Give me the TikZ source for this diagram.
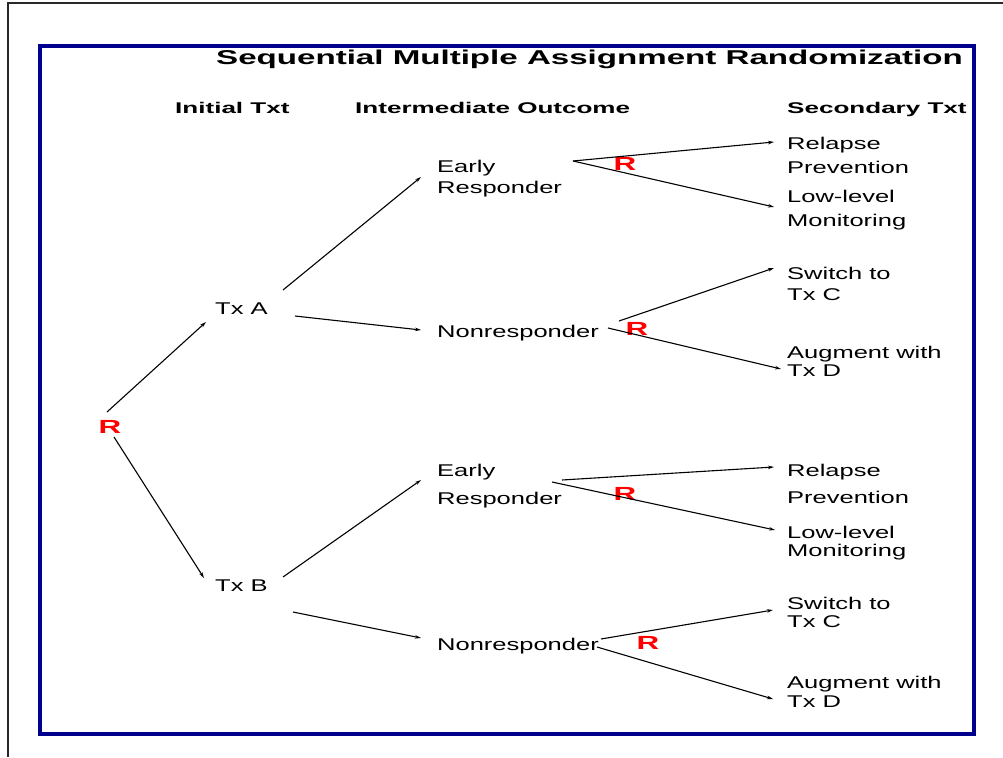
\documentclass[tikz,border=0pt]{standalone}
\usepackage{fontspec}
\setmainfont{Liberation Sans}
\newfontfamily\nf[FakeStretch=1.5]{Liberation Sans}
\newfontfamily\hf[FakeStretch=1.68]{Liberation Sans Bold}
\newfontfamily\ttlf[FakeStretch=1.655]{Liberation Sans Bold}
\newfontfamily\rf[FakeStretch=1.65]{Liberation Sans Bold}
\usetikzlibrary{arrows.meta}
\definecolor{navy}{RGB}{0,0,140}
\definecolor{frame}{RGB}{40,40,40}
\tikzset{
  txt/.style={font=\nf\fontsize{17}{15}\selectfont, anchor=north west, inner sep=0pt, align=left},
  hdr/.style={font=\hf\fontsize{15.5}{18}\selectfont, anchor=base west, inner sep=0pt},
  ttl/.style={font=\ttlf\fontsize{20}{24}\selectfont, anchor=base west, inner sep=0pt},
  rr/.style={font=\rf\fontsize{19}{20}\selectfont, text=red, inner sep=0pt},
  arr/.style={-{Stealth[length=6pt,width=3.5pt]}, line width=1.1pt},
}
\begin{document}
\begin{tikzpicture}[x=1pt,y=-1pt]
\useasboundingbox (0,0) rectangle (1003,757);
% frames
\draw[frame, line width=1.5pt] (8,757) -- (8,3) -- (1003,3);
\draw[navy, line width=4pt] (40,46) rectangle (974,734);
% title and headers
\node[ttl] (title) at (216,64.7) {Sequential Multiple Assignment Randomization};
\node[hdr] (h1) at (175,113.5) {Initial Txt};
\node[hdr] (h2) at (355,113.5) {Intermediate Outcome};
\node[hdr] (h3) at (787,113.5) {Secondary Txt};
% R main
\node[rr] (R0) at (110,427) {R};
% level 1
\node[txt] (txa) at (215,303) {Tx A};
\node[txt] (txb) at (215,580) {Tx B};
% level 2
\node[txt] (erA) at (437,160) {Early\\[4pt]Responder};
\node[txt] (nrA) at (437,325) {Nonresponder};
\node[txt] (erB) at (437,464) {Early\\[11pt]Responder};
\node[txt] (nrB) at (437,638) {Nonresponder};
% level 3
\node[txt] (relA) at (787,136.5) {Relapse\\[8pt]Prevention};
\node[txt] (lowA) at (787,190) {Low-level\\[9pt]Monitoring};
\node[txt] (swA) at (787,267) {Switch to\\[6pt]Tx C};
\node[txt] (augA) at (787,346) {Augment with\\[2pt]Tx D};
\node[txt] (relB) at (787,464) {Relapse\\[10pt]Prevention};
\node[txt] (lowB) at (787,526) {Low-level\\[3pt]Monitoring};
\node[txt] (swB) at (787,597) {Switch to\\[3pt]Tx C};
\node[txt] (augB) at (787,676) {Augment with\\[3pt]Tx D};
% red R's
\node[rr] (rA1) at (625,164) {R};
\node[rr] (rA2) at (637,329) {R};
\node[rr] (rB1) at (625,494) {R};
\node[rr] (rB2) at (648,643) {R};
% connector end points
\coordinate (r0a) at (107,412); \coordinate (txaIn) at (206,322);
\coordinate (r0b) at (114,437); \coordinate (txbIn) at (204,578);
\coordinate (txaU) at (283,290); \coordinate (erAIn) at (421,177);
\coordinate (txaD) at (295,316); \coordinate (nrAIn) at (421,330);
\coordinate (txbU) at (283,577); \coordinate (erBIn) at (421,480);
\coordinate (txbD) at (293,612); \coordinate (nrBIn) at (421,638);
\coordinate (erAOut) at (573,161);
\coordinate (relAIn) at (774,142); \coordinate (lowAIn) at (774,207);
\coordinate (nrAOutU) at (619,321); \coordinate (nrAOutD) at (608,328);
\coordinate (swAIn) at (774,268); \coordinate (augAIn) at (781,369);
\coordinate (erBOutU) at (562,480); \coordinate (erBOutD) at (552,482);
\coordinate (relBIn) at (774,467); \coordinate (lowBIn) at (775,530);
\coordinate (nrBOutU) at (601,639); \coordinate (nrBOutD) at (597,647);
\coordinate (swBIn) at (773,610); \coordinate (augBIn) at (773,699);
% connectors
\draw[arr] (r0a) -- (txaIn);
\draw[arr] (r0b) -- (txbIn);
\draw[arr] (txaU) -- (erAIn);
\draw[arr] (txaD) -- (nrAIn);
\draw[arr] (txbU) -- (erBIn);
\draw[arr] (txbD) -- (nrBIn);
\draw[arr] (erAOut) -- (relAIn);
\draw[arr] (erAOut) -- (lowAIn);
\draw[arr] (nrAOutU) -- (swAIn);
\draw[arr] (nrAOutD) -- (augAIn);
\draw[arr] (erBOutU) -- (relBIn);
\draw[arr] (erBOutD) -- (lowBIn);
\draw[arr] (nrBOutU) -- (swBIn);
\draw[arr] (nrBOutD) -- (augBIn);
\end{tikzpicture}
\end{document}
